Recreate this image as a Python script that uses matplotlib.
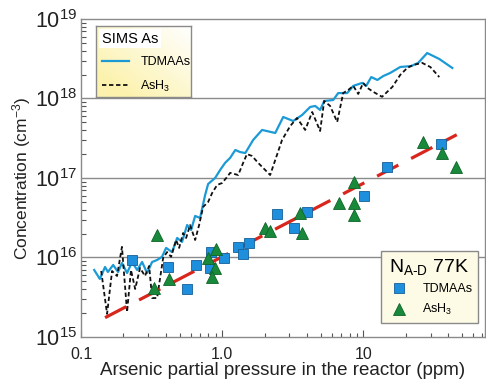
import numpy as np
import matplotlib
matplotlib.use('Agg')
import matplotlib.pyplot as plt
from matplotlib.ticker import LogLocator, NullFormatter, FixedLocator, FixedFormatter
from matplotlib.lines import Line2D

plt.rcParams['font.family'] = ['Liberation Sans', 'DejaVu Sans']
plt.rcParams['mathtext.fontset'] = 'custom'
plt.rcParams['mathtext.rm'] = 'Liberation Sans'
plt.rcParams['mathtext.it'] = 'Liberation Sans:italic'

# SIMS arsenic profile, TDMAAs source
sims_tdmaas_p = [0.124, 0.136, 0.148, 0.155, 0.169, 0.183, 0.195, 0.212, 0.230, 0.250,
                 0.271, 0.294, 0.319, 0.346, 0.375, 0.401, 0.442, 0.480, 0.520, 0.565,
                 0.603, 0.644, 0.698, 0.758, 0.796, 0.892, 0.968, 1.05, 1.14, 1.24,
                 1.34, 1.46, 1.66, 1.92, 2.38, 2.71, 3.19, 3.69, 4.21, 4.57,
                 4.95, 5.29, 6.13, 6.65, 7.70, 8.50, 9.84, 10.5, 11.4, 12.6,
                 13.9, 15.5, 18.3, 21.9, 24.5, 28.4, 34.6, 42.8]
sims_tdmaas_c = [6.96e15, 5.37e15, 7.60e15, 6.57e15, 8.05e15, 6.57e15, 8.53e15, 6.38e15, 8.78e15, 6.96e15,
                 8.78e15, 6.38e15, 8.78e15, 9.30e15, 1.02e16, 1.32e16, 1.17e16, 1.76e16, 1.57e16, 2.56e16,
                 2.22e16, 3.33e16, 3.14e16, 6.11e16, 8.41e16, 1.00e17, 1.26e17, 1.55e17, 1.79e17, 2.25e17,
                 2.12e17, 2.06e17, 3.01e17, 4.02e17, 3.68e17, 5.85e17, 5.21e17, 6.20e17, 7.82e17, 8.05e17,
                 7.17e17, 9.30e17, 9.57e17, 1.17e18, 1.17e18, 1.44e18, 1.57e18, 1.44e18, 1.86e18, 1.71e18,
                 1.92e18, 2.09e18, 2.49e18, 2.56e18, 2.80e18, 3.73e18, 3.14e18, 2.42e18]

# SIMS arsenic profile, AsH3 source
sims_ash3_p = [0.139, 0.153, 0.166, 0.180, 0.195, 0.212, 0.226, 0.242, 0.262, 0.284,
               0.304, 0.319, 0.346, 0.382, 0.407, 0.435, 0.472, 0.496, 0.529, 0.556,
               0.593, 0.644, 0.687, 0.733, 0.796, 0.850, 0.922, 1.00, 1.085, 1.14,
               1.30, 1.41, 1.50, 1.63, 1.80, 2.19, 2.66, 3.04, 3.40, 3.88,
               4.35, 4.95, 5.29, 5.83, 6.54, 7.21, 7.83, 8.50, 9.22, 10.0,
               10.7, 11.8, 13.6, 16.1, 18.3, 20.5, 22.6, 26.2, 29.9, 34.6]
sims_ash3_c = [6.76e15, 1.95e15, 6.76e15, 5.85e15, 1.36e16, 2.06e15, 6.96e15, 4.02e15, 7.38e15, 5.85e15,
               7.82e15, 3.09e15, 3.09e15, 9.86e15, 1.17e16, 1.02e16, 1.66e16, 1.32e16, 2.03e16, 1.76e16,
               2.56e16, 1.66e16, 2.56e16, 4.32e16, 4.99e16, 6.48e16, 8.17e16, 8.65e16, 1.03e17, 1.16e17,
               1.09e17, 1.55e17, 2.00e17, 1.89e17, 1.55e17, 1.09e17, 3.01e17, 4.51e17, 5.68e17, 4.02e17,
               6.76e17, 3.90e17, 9.30e17, 8.05e17, 5.06e17, 1.17e18, 1.28e18, 1.44e18, 1.14e18, 1.57e18,
               1.36e18, 1.21e18, 1.05e18, 1.40e18, 1.98e18, 2.42e18, 2.64e18, 2.80e18, 2.49e18, 1.86e18]

# Hall N_A-D at 77 K
nad_tdmaas_p = [0.230, 0.414, 0.565, 0.654, 0.836, 0.822, 1.03, 1.30, 1.41, 1.55,
                2.45, 3.24, 4.01, 10.2, 14.8, 35.7]
nad_tdmaas_c = [9.30e15, 7.60e15, 4.02e15, 8.05e15, 1.17e16, 7.38e15, 9.86e15, 1.36e16, 1.11e16, 1.52e16,
                3.53e16, 2.35e16, 3.73e16, 5.94e16, 1.38e17, 2.68e17]
nad_ash3_p = [0.346, 0.329, 0.421, 0.796, 0.907, 0.892, 0.850, 2.02, 2.19, 3.57,
              3.69, 6.76, 8.64, 8.64, 8.64, 26.6, 36.3, 45.7]
nad_ash3_c = [1.92e16, 4.13e15, 5.37e15, 9.86e15, 1.28e16, 7.38e15, 5.68e15, 2.35e16, 2.15e16, 3.63e16,
              2.03e16, 4.85e16, 8.91e16, 4.85e16, 3.42e16, 2.84e17, 2.06e17, 1.38e17]

# guide line through the Hall data
fit_p = [0.148, 46.0]
fit_c = [1.75e15, 3.5e17]

blue = '#1b9ad6'
sq_blue = '#1e8fdc'
green = '#18893a'
grey = '#8a8a8a'

fig = plt.figure(figsize=(4.86, 3.85), dpi=100)
ax = fig.add_axes([0.1667, 0.1247, 0.8313, 0.826])
ax.set_xscale('log')
ax.set_yscale('log')
ax.set_xlim(0.1, 73)
ax.set_ylim(1e15, 1e19)

for yv in [1e16, 1e17, 1e18]:
    ax.axhline(yv, color=grey, lw=1.0, zorder=1)

ax.plot(sims_tdmaas_p, sims_tdmaas_c, color=blue, lw=1.6, zorder=3)
ax.plot(sims_ash3_p, sims_ash3_c, color='#111111', lw=1.3, dashes=(2.4, 1.5), zorder=3)
ax.plot(fit_p, fit_c, color='#d9261c', lw=2.3, dashes=(7.5, 4.5), zorder=4)
ax.plot(nad_tdmaas_p, nad_tdmaas_c, 's', ms=7.2, mfc=sq_blue, mec='#155f99', mew=0.6, zorder=5)
ax.plot(nad_ash3_p, nad_ash3_c, '^', ms=8.5, mfc=green, mec='#0e6428', mew=0.6, zorder=5)

# axes frame and ticks
for s in ax.spines.values():
    s.set_color(grey)
    s.set_linewidth(1.0)
ax.xaxis.set_major_locator(FixedLocator([0.1, 1, 10]))
ax.xaxis.set_major_formatter(FixedFormatter(['0.1', '1.0', '10']))
ax.xaxis.set_minor_locator(LogLocator(base=10, subs=np.arange(2, 10)))
ax.xaxis.set_minor_formatter(NullFormatter())
ax.yaxis.set_major_locator(FixedLocator([1e15, 1e16, 1e17, 1e18, 1e19]))
ax.yaxis.set_major_formatter(FixedFormatter([r'$10^{15}$', r'$10^{16}$', r'$10^{17}$',
                                             r'$10^{18}$', r'$10^{19}$']))
ax.yaxis.set_minor_locator(LogLocator(base=10, subs=np.arange(2, 10)))
ax.yaxis.set_minor_formatter(NullFormatter())
ax.tick_params(axis='both', which='both', direction='in', color='#555555', width=0.8)
ax.tick_params(axis='x', which='major', length=5, labelsize=11.5, pad=7, labelcolor='#222222')
ax.tick_params(axis='x', which='minor', length=3)
ax.tick_params(axis='y', which='major', length=0, labelsize=15.5, pad=3, labelcolor='#222222')
ax.tick_params(axis='y', which='minor', length=3.5)

ax.set_xlabel('Arsenic partial pressure in the reactor (ppm)', fontsize=13.5, color='#222222', labelpad=0)
ax.set_ylabel('Concentration (cm$^{-3}$)', fontsize=12.5, color='#222222', labelpad=1)

# SIMS legend with a soft yellow background
box = [0.037, 0.755, 0.235, 0.223]
bg = ax.inset_axes(box)
grad = np.linspace(0, 1, 64)
gx, gy = np.meshgrid(grad, grad)
w = np.clip(0.6 * (1 - gx) + 0.6 * gy, 0, 1)
white = np.array([1.0, 1.0, 1.0])
yellow = np.array([0.99, 0.95, 0.68])
img = white[None, None, :] * (1 - w[..., None]) + yellow[None, None, :] * w[..., None]
bg.imshow(img, origin='upper', aspect='auto', extent=[0, 1, 0, 1])
bg.set_xticks([])
bg.set_yticks([])
for s in bg.spines.values():
    s.set_color(grey)
    s.set_linewidth(1.0)
bg.set_zorder(6)

h1 = [Line2D([], [], color=blue, lw=1.6),
      Line2D([], [], color='#111111', lw=1.3, dashes=(2.4, 1.5))]
leg1 = ax.legend(h1, ['TDMAAs', 'AsH$_3$'], title='SIMS As', loc='upper left',
                 bbox_to_anchor=(box[0], box[1] + box[3]), frameon=False, fontsize=9,
                 title_fontsize=10.5, alignment='left', handlelength=2.2, handletextpad=0.9,
                 borderpad=0.45, labelspacing=0.85, borderaxespad=0)
leg1.get_title().set_bbox(dict(facecolor='white', edgecolor='none', pad=2))
leg1.set_zorder(7)
ax.add_artist(leg1)

# Hall legend
h2 = [Line2D([], [], ls='none', marker='s', ms=7.2, mfc=sq_blue, mec='#155f99', mew=0.6),
      Line2D([], [], ls='none', marker='^', ms=8.5, mfc=green, mec='#0e6428', mew=0.6)]
leg2 = ax.legend(h2, ['TDMAAs', 'AsH$_3$'], title=r'N$_\mathrm{A\text{-}D}$ 77K', loc='lower right',
                 bbox_to_anchor=(0.983, 0.044), fontsize=9, title_fontsize=14,
                 fancybox=False, framealpha=1, facecolor='#fdfbe6', edgecolor=grey,
                 handletextpad=0.9, borderpad=0.45, labelspacing=0.55, borderaxespad=0)
leg2.get_frame().set_linewidth(1.0)
leg2.set_zorder(7)

fig.savefig('out.png', dpi=100)
